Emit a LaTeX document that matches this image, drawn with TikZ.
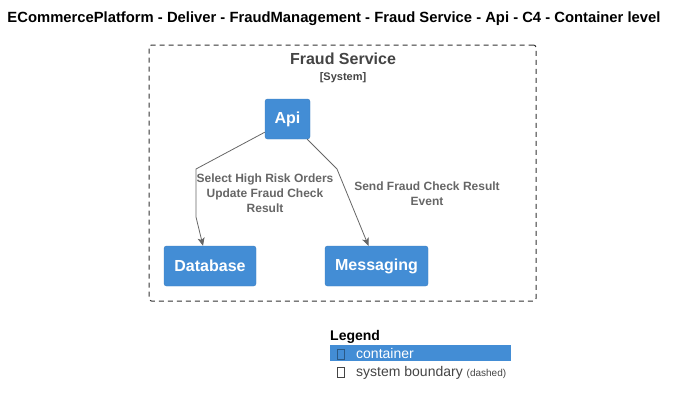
\documentclass[tikz,border=0pt]{standalone}
\usepackage{fontspec}
\setmainfont{Liberation Sans}
\usepackage{xcolor}
\usepackage{tikz}
\usetikzlibrary{arrows.meta, positioning, shapes}
\definecolor{contblue}{HTML}{438DD5}
\definecolor{contedge}{HTML}{3C7FC0}
\definecolor{relgray}{HTML}{666666}
\definecolor{bndgray}{HTML}{444444}
\newcommand{\fsz}[2]{\fontsize{#1}{#2}\selectfont}
\tikzset{
  container/.style={draw=contedge, fill=contblue, rounded corners=2.5pt, text=white,
    font=\bfseries\fsz{16}{19}, minimum height=40pt, inner sep=0pt},
  boundary/.style={draw=black!80, dash pattern=on 5pt off 4pt, rounded corners=2.5pt, line width=1pt},
  rel/.style={draw=relgray, line width=0.8pt, -{Stealth[length=8pt,width=7pt,inset=2pt]}},
  rellabel/.style={text=relgray, font=\bfseries\fsz{12}{15}, align=center, inner sep=0pt},
  tofu/.style={draw=#1, line width=0.6pt, minimum width=7pt, minimum height=10pt, inner sep=0pt}
}

\begin{document}
\begin{tikzpicture}[x=1pt,y=-1pt]
\useasboundingbox (0,0) rectangle (677,405);
\node(title)[anchor=base, font=\bfseries\fsz{14.8}{16}] at (334,22) {ECommercePlatform - Deliver - FraudManagement - Fraud Service - Api - C4 - Container level};

% system boundary
\node(fraudsys)[boundary, minimum width=387pt, minimum height=256pt] at (342.5,173) {};
\node(sysname)[anchor=base, text=bndgray, font=\bfseries\fsz{16}{19}] at (343,64) {Fraud Service};
\node(systag)[anchor=base, text=bndgray, font=\bfseries\fsz{11}{13}] at (343,80) {[System]};

% containers
\node(api)[container, minimum width=45pt] at (287.5,119) {\raisebox{-1pt}{Api}};
\node(database)[container, minimum width=92pt] at (210,266) {\raisebox{-1pt}{Database}};
\node(messaging)[container, minimum width=103pt] at (376.5,266) {\raisebox{-1pt}{Messaging}};

\coordinate(db1) at (196,169);
\coordinate(db2) at (196,217);
\coordinate(ms1) at (337,169);

\draw[rel] ([yshift=7pt]api.south west) -- (db1) -- (db2) -- ([xshift=-7pt]database.north);
\draw[rel] ([xshift=-3pt]api.south east) -- (ms1) -- ([xshift=-8pt]messaging.north);
\node(dblabel)[rellabel] at (265,193) {Select High Risk Orders\\Update Fraud Check\\Result};
\node(mslabel)[rellabel] at (427,193.5) {Send Fraud Check Result\\Event};

% legend
\node(legend)[anchor=base west, inner sep=0pt, font=\bfseries\fsz{14}{16}] at (330,340) {Legend};
\node(legbar)[anchor=north west, fill=contblue, minimum width=181pt, minimum height=16pt, inner sep=0pt] at (330,345) {};
\node(legtofu1)[tofu=contedge!70!black] at (340.5,354.5) {};
\node(legcont)[anchor=base west, inner sep=0pt, text=white, font=\fsz{14}{16}] at (356,358) {container};
\node(legtofu2)[tofu=bndgray] at (340.5,372) {};
\node(legbnd)[anchor=base west, inner sep=0pt, text=bndgray, font=\fsz{14}{16}] at (356,376) {system boundary \fsz{10}{12}(dashed)};
\end{tikzpicture}
\end{document}
